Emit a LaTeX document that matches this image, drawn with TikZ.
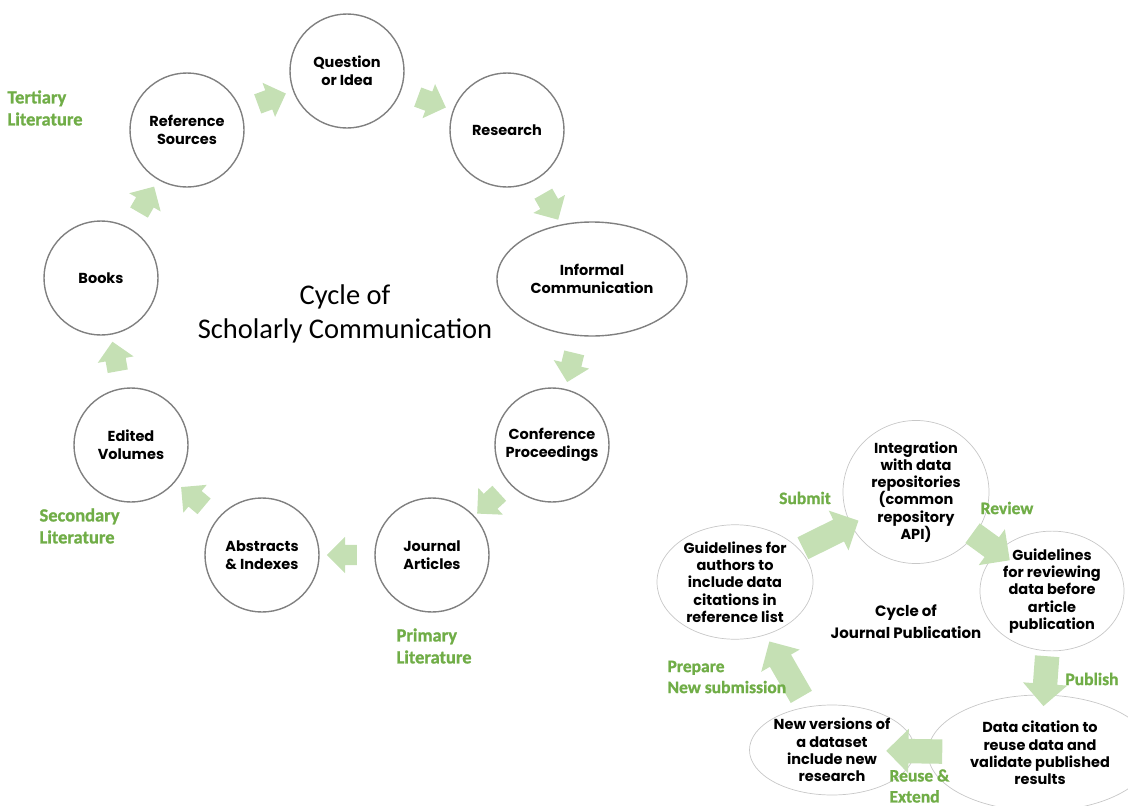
\documentclass[tikz,border=0pt]{standalone}
\usepackage{fontspec}
\setmainfont{Carlito}
\newfontfamily\gothic{Poppins}
\newfontfamily\tagfont[BoldFeatures={FakeBold=1}]{Carlito}
\usetikzlibrary{shapes.geometric,shapes.arrows}
\definecolor{leaf}{RGB}{112,173,71}
\definecolor{pale}{RGB}{197,224,180}
\tikzset{
  stage/.style = {circle, draw=black!50, line width=1.4pt, minimum size=114pt,
    inner sep=0pt, align=center, font=\gothic\bfseries\fontsize{14.5}{18}\selectfont},
  phase/.style = {ellipse, draw=black!22, line width=0.7pt, inner sep=0pt,
    align=center, font=\gothic\bfseries\fontsize{14.5}{17.3}\selectfont},
  tier/.style = {text=leaf, align=left, font=\tagfont\bfseries\fontsize{18.5}{22}\selectfont},
  act/.style = {text=leaf, align=left, font=\tagfont\bfseries\fontsize{17.5}{21}\selectfont},
  flow/.style = {single arrow, fill=pale, draw=none, inner xsep=0pt, inner ysep=10pt,
    sloped, allow upside down, minimum height=30pt, single arrow head extend=8pt},
  bigflow/.style = {flow, inner ysep=12pt, single arrow head extend=10pt}
}

\begin{document}
\begin{tikzpicture}[x=1pt,y=-1pt]
  \useasboundingbox (0,0) rectangle (1128,806);

  % scholarly communication cycle
  \node[stage] (idea) at (347,71) {Question\\or Idea};
  \node[stage] (research) at (507,130) {Research};
  \node[stage, ellipse, minimum width=190pt] (informal) at (592,279) {Informal\\Communication};
  \node[stage] (conf) at (552,445) {Conference\\Proceedings};
  \node[stage] (journal) at (432,555) {Journal\\Articles};
  \node[stage] (abstracts) at (262,555) {Abstracts\\\& Indexes};
  \node[stage] (edited) at (131,445) {Edited\\Volumes};
  \node[stage] (books) at (101,278) {Books};
  \node[stage] (refs) at (187,130) {Reference\\Sources};

  \foreach \a/\b in {idea/research, research/informal, informal/conf, conf/journal,
      journal/abstracts, abstracts/edited, edited/books, books/refs, refs/idea}
    \path (\a) -- node[flow] {} (\b);

  \node[font=\fontsize{28.5}{34}\selectfont, align=center] (title) at (345,314)
    {Cycle of\\Scholarly Communication};

  \node[tier, anchor=west] (tertiary) at (4,108) {Tertiary\\Literature};
  \node[tier, anchor=west] (secondary) at (36,526) {Secondary\\Literature};
  \node[tier, anchor=west] (primary) at (393,646) {Primary\\Literature};

  % journal publication cycle
  \node[phase, minimum width=156pt, minimum height=112pt] (guide) at (735,582)
    {Guidelines for\\authors to\\include data\\citations in\\reference list};
  \node[phase, minimum width=146pt, minimum height=114pt] (integ) at (916,492)
    {Integration\\with data\\repositories\\(common\\repository\\API)};
  \node[phase, minimum width=144pt, minimum height=112pt] (review) at (1052,591)
    {Guidelines\\for reviewing\\data before\\article\\publication};
  \node[phase, minimum width=224pt, minimum height=116pt] (cite) at (1040,753)
    {Data citation to\\reuse data and\\validate published\\results};
  \node[phase, minimum width=162pt, minimum height=90pt] (newver) at (832,750)
    {New versions of\\a dataset\\include new\\research};

  \path (guide) -- node[bigflow, minimum height=62pt] {} (integ);
  \path (integ) -- node[bigflow, minimum height=46pt] {} (review);
  \path (review) -- node[pos=0.55, bigflow, minimum height=50pt] {} (cite);
  \path (cite) -- node[pos=0.57, bigflow, minimum height=56pt] {} (newver);
  \path (newver) -- node[pos=0.45, bigflow, minimum height=64pt] {} (guide);

  \node[font=\gothic\bfseries\fontsize{15}{22}\selectfont, align=center] (jtitle) at (906,622)
    {Cycle of\\Journal Publication};

  \node[act] (submit) at (805,498) {Submit};
  \node[act] (reviewlbl) at (1007,508) {Review};
  \node[act] (publish) at (1092,679) {Publish};
  \node[act, anchor=west] (prepare) at (664,677) {Prepare\\New submission};
  \node[act, anchor=west] (reuse) at (886,786) {Reuse \&\\Extend};
\end{tikzpicture}
\end{document}
